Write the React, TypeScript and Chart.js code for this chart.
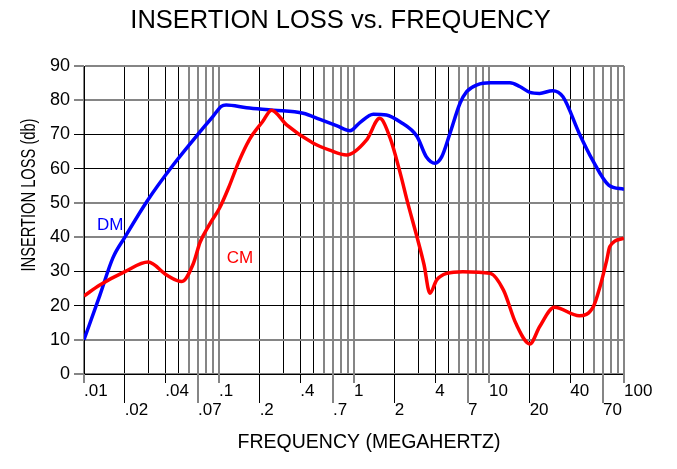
import React, { useEffect, useRef } from 'react';
import { Chart, registerables } from 'chart.js';

Chart.register(...registerables);

const FONT = "'Liberation Sans', Arial, Helvetica, sans-serif";

const TITLE = 'INSERTION LOSS vs. FREQUENCY';
const X_TITLE = 'FREQUENCY (MEGAHERTZ)';
const Y_TITLE = 'INSERTION LOSS (db)';

// DM (differential mode) insertion loss
const dmFreq = [0.01, 0.0131, 0.0164, 0.0201, 0.0293, 0.0456, 0.0724, 0.09, 0.104, 0.113, 0.16, 0.252, 0.42, 0.56, 0.75, 0.935, 1.1, 1.39, 1.74, 2.19, 2.93, 3.43, 3.98, 4.47, 5.14, 6.1, 6.83, 8.17, 10.2, 14.3, 16.9, 20.1, 23.7, 29.6, 35.3, 46.6, 58.5, 77, 100];
const dmLoss = [10, 23, 34, 40, 50.5, 61, 70.8, 75.2, 78.2, 78.6, 77.8, 77.1, 76.2, 74.4, 72.5, 71.1, 73.4, 75.9, 75.7, 73.7, 69.4, 63.5, 61.6, 63.5, 70.3, 79.1, 82.5, 84.5, 85.1, 85.1, 84.0, 82.3, 82.0, 82.8, 81.0, 70.3, 62.5, 55.2, 54.0];

// CM (common mode) insertion loss
const cmFreq = [0.01, 0.0131, 0.0201, 0.0299, 0.041, 0.053, 0.0646, 0.0724, 0.086, 0.101, 0.118, 0.14, 0.168, 0.21, 0.245, 0.317, 0.5, 0.66, 0.88, 1.24, 1.55, 1.85, 2.19, 2.5, 2.93, 3.3, 3.65, 4.1, 4.87, 6.4, 10.2, 12.8, 15.8, 20.1, 23.7, 30.5, 46.6, 59.3, 66.4, 74.5, 78.5, 100];
const cmLoss = [22.8, 26, 29.9, 32.7, 28.9, 27, 32.3, 38.5, 44, 48.5, 54.5, 62, 68.5, 73.7, 77.1, 72.8, 67.4, 65.4, 64, 68.4, 74.7, 69, 59, 50, 40, 32, 23.6, 27.5, 29.4, 29.9, 29.4, 24.5, 14.8, 8.8, 13.8, 19.5, 17, 19.7, 25.5, 33.3, 37.2, 39.7];

// grid frequencies (log decades)
const gridFreqs = [
  0.01, 0.02, 0.03, 0.04, 0.05, 0.06, 0.07, 0.08, 0.09,
  0.1, 0.2, 0.3, 0.4, 0.5, 0.6, 0.7, 0.8, 0.9,
  1, 2, 3, 4, 5, 6, 7, 8, 9,
  10, 20, 30, 40, 50, 60, 70, 80, 90,
  100,
];
const upperTickValues = [0.01, 0.04, 0.1, 0.4, 1, 4, 10, 40, 100];
const upperTickLabels = ['.01', '.04', '.1', '.4', '1', '4', '10', '40', '100'];
const lowerTickValues = [0.02, 0.07, 0.2, 0.7, 2, 7, 20, 70];
const lowerTickLabels = ['.02', '.07', '.2', '.7', '2', '7', '20', '70'];
const yTickValues = [0, 10, 20, 30, 40, 50, 60, 70, 80, 90];

// series label anchors (data coordinates)
const dmLabelAt = { x: 0.0125, y: 42.1 };
const cmLabelAt = { x: 0.1143, y: 32.3 };

const same = (a: number, b: number) => Math.abs(a - b) <= Math.abs(b) * 1e-6;
const findIdx = (arr: number[], v: number) => arr.findIndex((a) => same(a, v));

function lineStyleAt(p: number) {
  const f = p - Math.floor(p);
  const crisp = Math.abs(f - 0.5) < 0.25;
  return crisp ? { color: '#000000', width: 1 } : { color: '#858585', width: 2 };
}

function gridStyle(ctx: any) {
  const s = ctx.scale;
  const t = ctx.tick;
  if (!s || !t || s.getPixelForValue == null) return { color: '#000000', width: 1 };
  return lineStyleAt(s.getPixelForValue(t.value));
}

const tickExtPlugin = {
  id: 'tickExt',
  afterDraw(chart: any) {
    const { ctx } = chart;
    const x = chart.scales.x;
    const base = chart.chartArea.bottom;
    const draw = (vals: number[], len: number) => {
      vals.forEach((v) => {
        const p = x.getPixelForValue(v);
        const st = lineStyleAt(p);
        const ap = st.width === 1 ? Math.round(p - 0.5) + 0.5 : Math.round(p - 1) + 1;
        ctx.save();
        ctx.strokeStyle = st.color;
        ctx.lineWidth = st.width;
        ctx.beginPath();
        ctx.moveTo(ap, base);
        ctx.lineTo(ap, base + len);
        ctx.stroke();
        ctx.restore();
      });
    };
    draw(upperTickValues, 9);
    draw(lowerTickValues, 29);
  },
};

const textPlugin = {
  id: 'texts',
  afterDraw(chart: any) {
    const { ctx } = chart;
    const xs = chart.scales.x;
    const ys = chart.scales.y;
    ctx.save();
    ctx.fillStyle = '#000000';
    ctx.textBaseline = 'alphabetic';

    // main title
    ctx.font = `25.5px ${FONT}`;
    ctx.textAlign = 'center';
    ctx.fillText(TITLE, 340.5, 28);

    // x axis title
    ctx.font = `19.5px ${FONT}`;
    ctx.textAlign = 'center';
    ctx.fillText(X_TITLE, 369, 448);

    // y axis title (condensed, rotated)
    ctx.font = `21px ${FONT}`;
    const w = ctx.measureText(Y_TITLE).width;
    ctx.save();
    ctx.translate(35, 195);
    ctx.rotate(-Math.PI / 2);
    ctx.scale(153 / w, 1);
    ctx.textAlign = 'center';
    ctx.fillText(Y_TITLE, 0, 0);
    ctx.restore();

    // series labels
    ctx.font = `17px ${FONT}`;
    ctx.textAlign = 'left';
    ctx.fillStyle = '#0000ff';
    ctx.fillText('DM', xs.getPixelForValue(dmLabelAt.x), ys.getPixelForValue(dmLabelAt.y));
    ctx.fillStyle = '#ff0000';
    ctx.fillText('CM', xs.getPixelForValue(cmLabelAt.x), ys.getPixelForValue(cmLabelAt.y));
    ctx.restore();
  },
};

export default function App() {
  const ref = useRef<HTMLCanvasElement | null>(null);

  useEffect(() => {
    document.body.style.margin = '0';
    const canvas = ref.current;
    if (!canvas) return;
    const chart = new Chart(canvas, {
      type: 'line',
      data: {
        datasets: [
          {
            label: 'CM',
            data: cmFreq.map((f, i) => ({ x: f, y: cmLoss[i] })),
            borderColor: '#ff0000',
            backgroundColor: '#ff0000',
            borderWidth: 3.5,
            pointRadius: 0,
            cubicInterpolationMode: 'monotone',
            fill: false,
          },
          {
            label: 'DM',
            data: dmFreq.map((f, i) => ({ x: f, y: dmLoss[i] })),
            borderColor: '#0000ff',
            backgroundColor: '#0000ff',
            borderWidth: 3.5,
            pointRadius: 0,
            cubicInterpolationMode: 'monotone',
            fill: false,
          },
        ],
      },
      options: {
        animation: false,
        responsive: false,
        maintainAspectRatio: false,
        events: [],
        layout: { padding: { top: 66, left: 0, right: 53, bottom: 0 } },
        plugins: {
          legend: { display: false },
          title: { display: false },
          tooltip: { enabled: false },
        },
        scales: {
          x: {
            type: 'logarithmic',
            min: 0.01,
            max: 100,
            afterBuildTicks: (scale: any) => {
              scale.ticks = gridFreqs.map((v) => ({ value: v, major: false }));
            },
            afterFit: (scale: any) => {
              scale.height = 95;
            },
            grid: {
              drawTicks: false,
              color: (c: any) => gridStyle(c).color,
              lineWidth: (c: any) => gridStyle(c).width,
            },
            border: { display: true, color: '#000000', width: 1 },
            ticks: {
              autoSkip: false,
              maxRotation: 0,
              minRotation: 0,
              align: 'start',
              padding: 7.5,
              color: '#000000',
              font: { family: FONT, size: 17, lineHeight: 19 / 17 },
              callback: (value: any) => {
                const v = Number(value);
                const u = findIdx(upperTickValues, v);
                if (u >= 0) return upperTickLabels[u];
                const l = findIdx(lowerTickValues, v);
                if (l >= 0) return ['', lowerTickLabels[l]];
                return '';
              },
            },
          },
          y: {
            type: 'linear',
            min: 0,
            max: 90,
            afterBuildTicks: (scale: any) => {
              scale.ticks = yTickValues.map((v) => ({ value: v }));
            },
            afterFit: (scale: any) => {
              scale.width = 84;
            },
            grid: {
              drawTicks: true,
              tickLength: 10,
              color: (c: any) => gridStyle(c).color,
              lineWidth: (c: any) => gridStyle(c).width,
            },
            border: { display: true, color: '#000000', width: 1 },
            ticks: {
              padding: 4,
              color: '#000000',
              font: { family: FONT, size: 18 },
              callback: (value: any) => String(value),
            },
          },
        },
      },
      plugins: [tickExtPlugin, textPlugin],
    } as any);
    return () => chart.destroy();
  }, []);

  return (
    <div style={{ position: 'absolute', left: 0, top: 0, width: 677, height: 469 }}>
      <canvas ref={ref} width={677} height={469} style={{ width: 677, height: 469 }} />
    </div>
  );
}
